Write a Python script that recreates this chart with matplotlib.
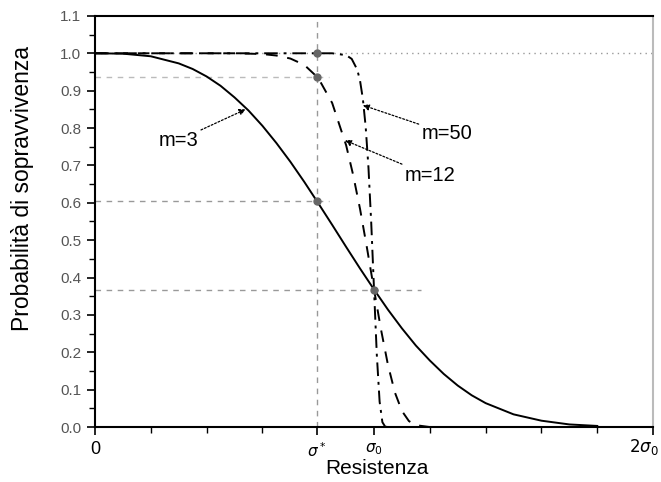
import matplotlib
matplotlib.use("Agg")
import matplotlib.pyplot as plt

plt.rcParams['font.family'] = ['Liberation Sans', 'DejaVu Sans']

# resistenza in unita' di sigma_0, probabilita'
x_m3 = [0.0, 0.1, 0.2, 0.3, 0.35, 0.4, 0.45, 0.5, 0.55, 0.6, 0.65, 0.7, 0.75, 0.8,
        0.85, 0.9, 0.95, 1.0, 1.05, 1.1, 1.15, 1.2, 1.25, 1.3, 1.35, 1.4, 1.5,
        1.6, 1.7, 1.8]
p_m3 = [1.0, 0.999, 0.992, 0.973, 0.958, 0.938, 0.913, 0.882, 0.847, 0.806, 0.760,
        0.710, 0.656, 0.599, 0.541, 0.482, 0.424, 0.368, 0.314, 0.264, 0.218,
        0.178, 0.142, 0.111, 0.085, 0.064, 0.034, 0.017, 0.007, 0.003]

x_m12 = [0.0, 0.5, 0.6, 0.65, 0.7, 0.75, 0.8, 0.85, 0.9, 0.925, 0.95, 0.975, 1.0,
         1.025, 1.05, 1.075, 1.1, 1.125, 1.15, 1.2]
p_m12 = [1.0, 1.0, 0.998, 0.994, 0.986, 0.969, 0.934, 0.867, 0.754, 0.675, 0.583,
         0.478, 0.368, 0.261, 0.166, 0.092, 0.043, 0.016, 0.005, 0.0]

x_m50 = [0.0, 0.85, 0.9, 0.92, 0.94, 0.95, 0.96, 0.97, 0.98, 0.99, 1.0, 1.01,
         1.02, 1.03, 1.04, 1.05]
p_m50 = [1.0, 1.0, 0.995, 0.985, 0.956, 0.926, 0.878, 0.804, 0.695, 0.546, 0.368,
         0.193, 0.068, 0.013, 0.001, 0.0]

sigma_star = 0.796
punti_x = [sigma_star, sigma_star, sigma_star, 1.0]
punti_y = [1.0, 0.936, 0.604, 0.368]

xtick_pos = [0, sigma_star, 1, 2]
xtick_lab = ['0', r'$\sigma^*$', r'$\sigma_0$', '']

fig = plt.figure(figsize=(6.61, 4.82), dpi=100)
ax = fig.add_axes([0.1437, 0.114, 0.8443, 0.853])

# linee di riferimento
ax.axhline(1.0, color='#999999', ls=(0, (1, 3)), lw=1.0)
ax.plot([0, 0.84], [0.936, 0.936], color='#bbbbbb', ls=(0, (4, 4)), lw=1.0)
ax.plot([0, 0.84], [0.604, 0.604], color='#999999', ls=(0, (4, 4)), lw=1.0)
ax.plot([0, 1.17], [0.368, 0.368], color='#999999', ls=(0, (4, 4)), lw=1.0)
ax.axvline(sigma_star, color='#999999', ls=(0, (4, 4)), lw=1.0)

ax.plot(x_m3, p_m3, color='black', lw=1.4)
ax.plot(x_m12, p_m12, color='black', lw=1.4, ls=(0, (6, 5)))
ax.plot(x_m50, p_m50, color='black', lw=1.4, ls=(0, (7, 3, 1.5, 3)))

ax.plot(punti_x, punti_y, 'o', color='#666666', ms=5, zorder=5)

arrow = dict(arrowstyle='-|>', color='black', lw=0.9, ls=(0, (1.5, 1.5)),
             mutation_scale=9, shrinkA=0, shrinkB=0)
ax.annotate('m=3', xy=(0.54, 0.85), xytext=(0.37, 0.767), fontsize=14.5,
            ha='right', va='center', arrowprops=arrow)
ax.annotate('m=50', xy=(0.96, 0.861), xytext=(1.17, 0.785), fontsize=14.5,
            ha='left', va='center', arrowprops=arrow)
ax.annotate('m=12', xy=(0.896, 0.767), xytext=(1.11, 0.672), fontsize=14.5,
            ha='left', va='center', arrowprops=arrow)

ax.set_xlim(0, 2)
ax.set_ylim(0, 1.1)
ax.set_xticks(xtick_pos)
ax.set_xticklabels(xtick_lab, fontsize=11)
ax.get_xticklabels()[0].set_fontsize(13)
ax.set_xticks([0.2, 0.4, 0.6, 1.2, 1.4, 1.6, 1.8], minor=True)
ax.set_yticks([i / 10 for i in range(12)])
ax.set_yticklabels(['%.1f' % (i / 10) for i in range(12)], fontsize=11, color='#555555')
ax.set_yticks([i / 10 + 0.05 for i in range(11)], minor=True)
ax.tick_params(which='major', direction='out', length=6, width=1.2, pad=4)
ax.tick_params(which='minor', direction='out', length=4, width=1.0)

for s in ['left', 'bottom', 'top']:
    ax.spines[s].set_linewidth(1.5)
ax.spines['right'].set_color('#bbbbbb')
ax.spines['right'].set_linewidth(1.5)

fig.text(659 / 661, 1 - 447 / 482, r'$2\sigma_0$', fontsize=12, ha='right', va='center')
fig.text(377 / 661, 1 - 469 / 482, 'Resistenza', fontsize=15, ha='center', va='center')
fig.text(23 / 661, 1 - 189 / 482, 'Probabilità di sopravvivenza', fontsize=16.5,
         rotation=90, ha='center', va='center')

fig.savefig('out.png', dpi=100)
